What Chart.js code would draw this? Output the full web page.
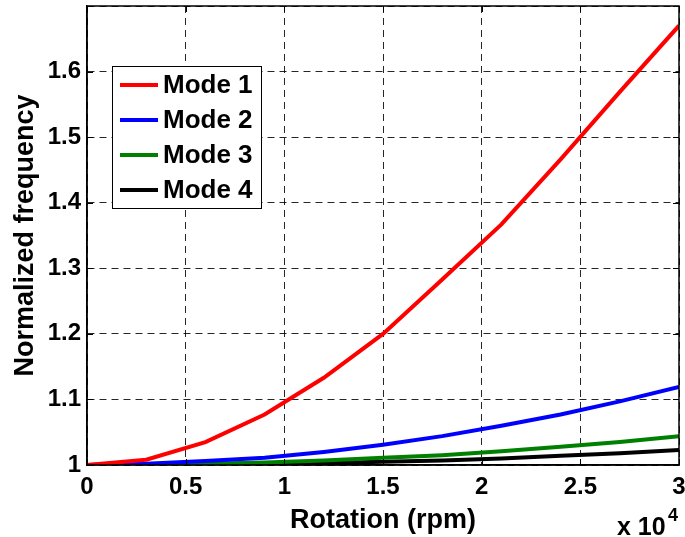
<!DOCTYPE html>
<html>
<head>
<meta charset="utf-8">
<script src="https://cdn.jsdelivr.net/npm/chart.js@4.4.0/dist/chart.umd.min.js"></script>
<style>
  html, body { margin: 0; padding: 0; background: #fff; }
  #wrap { width: 685px; height: 537px; }
</style>
</head>
<body>
<div id="wrap"><canvas id="freq-chart"></canvas></div>
<script>
// rotation speed in rpm (axis shows x 10^4)
var rotation = [0, 3000, 6000, 9000, 12000, 15000, 18000, 21000, 24000, 27000, 30000];
var mode1 = [1.000, 1.008, 1.035, 1.077, 1.133, 1.200, 1.283, 1.367, 1.466, 1.569, 1.670];
var mode2 = [1.000, 1.002, 1.006, 1.011, 1.020, 1.031, 1.044, 1.060, 1.077, 1.097, 1.119];
var mode3 = [1.000, 1.001, 1.002, 1.004, 1.007, 1.011, 1.015, 1.021, 1.028, 1.035, 1.044];
var mode4 = [1.000, 1.0005, 1.001, 1.002, 1.003, 1.005, 1.007, 1.010, 1.014, 1.018, 1.023];
var labels = ['Mode 1', 'Mode 2', 'Mode 3', 'Mode 4'];
var colors = ['#ff0000', '#0000ff', '#008000', '#000000'];

var FONT = "'Liberation Sans', Arial, Helvetica, sans-serif";

function toPoints(values) {
    return values.map(function (v, i) { return { x: rotation[i], y: v }; });
}

var series = [mode1, mode2, mode3, mode4];
var datasets = series.map(function (s, i) {
    return {
        label: labels[i],
        data: toPoints(s),
        borderColor: colors[i],
        backgroundColor: colors[i],
        borderWidth: 4,
        pointRadius: 0,
        tension: 0,
        fill: false
    };
});

// box around plot + inward tick marks, matlab style
var framePlugin = {
    id: 'frame',
    afterDraw: function (chart) {
        var ctx = chart.ctx, a = chart.chartArea;
        var xs = chart.scales.x, ys = chart.scales.y;
        ctx.save();
        ctx.strokeStyle = '#000';
        ctx.lineWidth = 1;
        xs.ticks.forEach(function (t) {
            var px = Math.round(xs.getPixelForValue(t.value)) + 0.5;
            ctx.beginPath();
            ctx.moveTo(px, a.bottom); ctx.lineTo(px, a.bottom - 6);
            ctx.moveTo(px, a.top); ctx.lineTo(px, a.top + 6);
            ctx.stroke();
        });
        ys.ticks.forEach(function (t) {
            var py = Math.round(ys.getPixelForValue(t.value)) + 0.5;
            ctx.beginPath();
            ctx.moveTo(a.left, py); ctx.lineTo(a.left + 6, py);
            ctx.moveTo(a.right, py); ctx.lineTo(a.right - 6, py);
            ctx.stroke();
        });
        ctx.lineWidth = 1.5;
        ctx.strokeRect(a.left, a.top, a.right - a.left, a.bottom - a.top);

        // exponent label
        ctx.fillStyle = '#000';
        ctx.textBaseline = 'middle';
        ctx.textAlign = 'left';
        ctx.font = 'bold 25px ' + FONT;
        ctx.fillText('x 10', a.right - 62, a.bottom + 63);
        ctx.font = 'bold 18px ' + FONT;
        ctx.fillText('4', a.right - 11, a.bottom + 51);

        // legend box
        var bx = a.left + 25, by = a.top + 60, bw = 149, bh = 142;
        ctx.fillStyle = '#fff';
        ctx.fillRect(bx, by, bw, bh);
        ctx.lineWidth = 1;
        ctx.strokeStyle = '#000';
        ctx.strokeRect(bx + 0.5, by + 0.5, bw, bh);
        chart.data.datasets.forEach(function (ds, i) {
            var ry = by + 19 + i * 35;
            ctx.strokeStyle = ds.borderColor;
            ctx.lineWidth = 4;
            ctx.beginPath();
            ctx.moveTo(bx + 8, ry); ctx.lineTo(bx + 46, ry);
            ctx.stroke();
            ctx.fillStyle = '#000';
            ctx.font = 'bold 26px ' + FONT;
            ctx.fillText(ds.label, bx + 51, ry + 1);
        });
        ctx.restore();
    }
};

var ctx = document.getElementById('freq-chart').getContext('2d');
var chart = new Chart(ctx, {
    type: 'line',
    data: { datasets: datasets },
    plugins: [framePlugin],
    options: {
        responsive: true,
        maintainAspectRatio: false,
        animation: false,
        layout: { padding: { top: 6, right: 6, left: 0, bottom: 0 } },
        plugins: {
            legend: { display: false },
            tooltip: { enabled: false }
        },
        scales: {
            x: {
                type: 'linear',
                min: 0,
                max: 30000,
                afterFit: function (scale) {
                    scale.height = 72;
                    scale.paddingLeft = 0;
                    scale.paddingRight = 0;
                },
                ticks: {
                    stepSize: 5000,
                    padding: 8,
                    color: '#000',
                    maxRotation: 0,
                    font: { family: FONT, size: 24, weight: 'bold' },
                    callback: function (v) { return String(v / 10000); }
                },
                grid: { color: 'rgba(0,0,0,0.85)', lineWidth: 1, drawTicks: false },
                border: { display: true, color: '#000', width: 1.5, dash: [7, 5] },
                title: {
                    display: true,
                    text: 'Rotation (rpm)',
                    color: '#000',
                    padding: { top: 7, bottom: 0 },
                    font: { family: FONT, size: 27, weight: 'bold' }
                }
            },
            y: {
                min: 1,
                max: 1.7,
                afterFit: function (scale) {
                    scale.width = 87;
                    scale.paddingTop = 0;
                    scale.paddingBottom = 0;
                },
                ticks: {
                    stepSize: 0.1,
                    padding: 6,
                    color: '#000',
                    font: { family: FONT, size: 24, weight: 'bold' },
                    callback: function (v) {
                        var r = Math.round(v * 10) / 10;
                        return r >= 1.7 ? '' : String(r);
                    }
                },
                grid: { color: 'rgba(0,0,0,0.85)', lineWidth: 1, drawTicks: false },
                border: { display: true, color: '#000', width: 1.5, dash: [7, 5] },
                title: {
                    display: true,
                    text: 'Normalized frequency',
                    color: '#000',
                    padding: { top: 9, bottom: 0 },
                    font: { family: FONT, size: 27, weight: 'bold' }
                }
            }
        }
    }
});
</script>
</body>
</html>
